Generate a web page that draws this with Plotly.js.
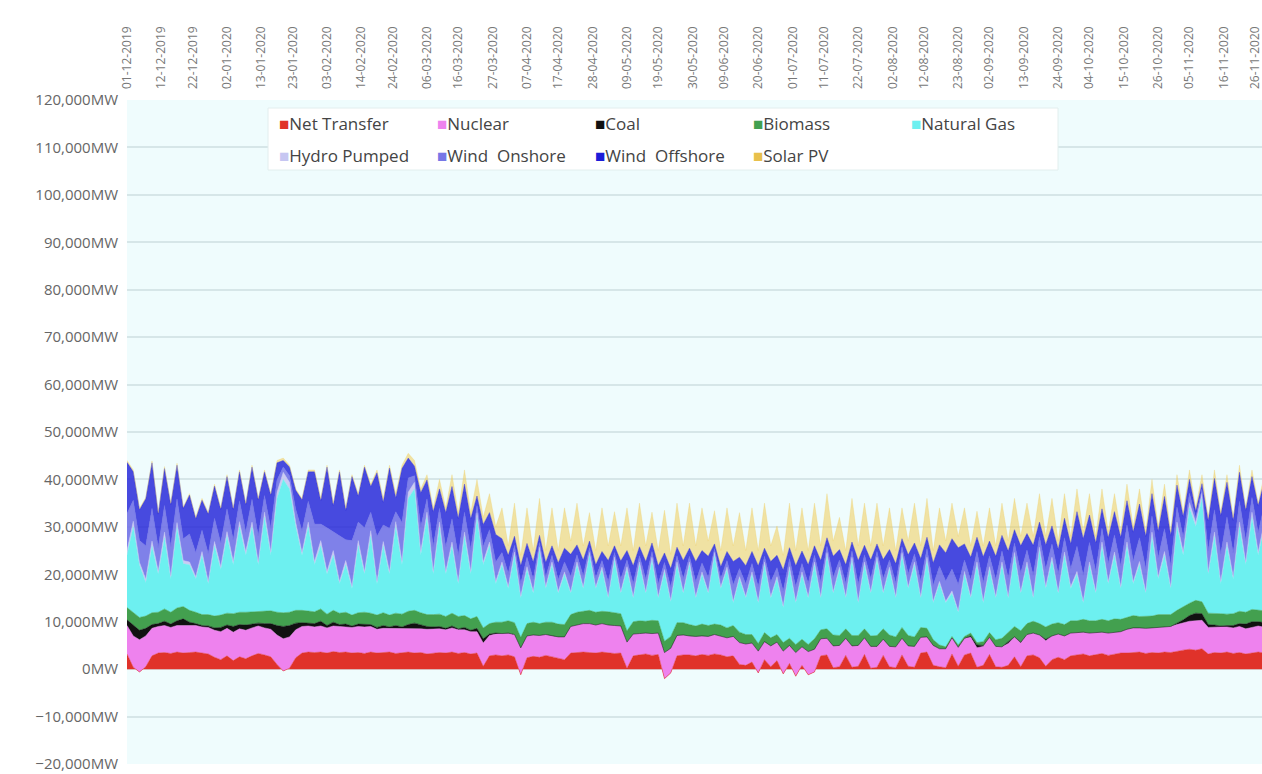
<!DOCTYPE html>
<html><head><meta charset="utf-8">
<script src="https://cdn.plot.ly/plotly-3.0.1.min.js"></script>
<style>html,body{margin:0;padding:0;background:#fff}#chart{width:1262px;height:774px}</style>
</head><body><div id="chart"></div>
<script>
// Sampling: one reading every 2 days starting 1 Dec 2019 (values in GW)
const startDate = '2019-12-01';
const stepDays = 2;

const tickLabels = ['01-12-2019','12-12-2019','22-12-2019','02-01-2020','13-01-2020','23-01-2020','03-02-2020','14-02-2020','24-02-2020','06-03-2020','16-03-2020','27-03-2020','07-04-2020','17-04-2020','28-04-2020','09-05-2020','19-05-2020','30-05-2020','09-06-2020','20-06-2020','01-07-2020','11-07-2020','22-07-2020','02-08-2020','12-08-2020','23-08-2020','02-09-2020','13-09-2020','24-09-2020','04-10-2020','15-10-2020','26-10-2020','05-11-2020','16-11-2020','26-11-2020'];

const netTransfer = [
3.2,0.4,-0.6,0.5,2.8,3.4,3.5,3.3,3.6,3.4,
3.5,3.6,3.4,3.2,2.5,2.0,2.8,1.8,2.6,2.2,
2.8,3.3,3.0,2.6,1.0,-0.4,0.2,2.4,3.4,3.6,
3.5,3.6,3.4,3.7,3.5,3.6,3.4,3.5,3.3,3.6,
3.4,3.5,3.6,3.3,3.5,3.6,3.4,3.5,3.2,3.4,
3.5,3.4,3.6,3.3,3.5,3.2,3.4,0.6,2.8,3.0,
2.8,3.0,2.6,-1.2,2.4,2.7,2.5,2.9,2.6,2.2,
2.0,3.4,3.5,3.6,3.5,3.4,3.6,3.5,3.3,3.4,
0.2,2.8,3.0,3.2,2.9,3.1,-2.0,-0.8,2.8,3.0,
3.0,2.8,3.1,2.9,3.2,3.0,2.6,2.8,1.0,0.8,
1.5,-0.8,2.0,0.5,1.8,-1.0,1.2,-1.5,0.8,-1.2,
-0.6,2.8,3.0,0.3,0.5,2.9,0.4,0.6,3.1,0.2,
0.4,2.9,0.5,0.3,3.0,0.6,0.4,3.4,3.6,0.8,
0.5,0.3,3.2,0.6,3.0,3.4,0.4,0.8,3.1,0.5,
0.4,0.8,2.6,0.5,2.8,3.0,2.4,0.6,2.0,2.5,
2.0,2.8,3.0,3.2,2.8,3.1,3.3,2.9,3.2,3.4,
3.4,3.5,3.6,3.3,3.5,3.4,3.6,3.5,3.8,4.0,
4.2,4.0,4.3,3.2,3.5,3.4,3.6,3.3,3.5,3.2,3.4,3.6,3.4];

const nuclear = [
6.0,6.6,6.8,6.5,5.8,5.6,5.7,5.5,5.6,5.8,
5.8,5.6,5.5,5.6,5.7,5.9,5.8,6.0,5.9,6.0,
5.9,5.8,5.7,5.8,6.2,6.8,6.6,5.9,5.6,5.5,
5.4,5.5,5.3,5.4,5.5,5.3,5.4,5.5,5.6,5.4,
5.0,5.1,5.0,5.2,5.0,4.9,5.1,5.0,5.2,5.0,
5.0,4.9,5.1,5.0,4.8,4.7,4.5,4.9,4.3,4.4,
4.6,4.5,4.7,5.6,4.6,4.5,4.6,4.4,4.5,4.6,
4.8,5.6,5.8,6.0,6.1,5.9,6.0,5.8,5.9,5.7,
5.5,4.6,4.5,4.4,4.6,4.5,5.5,5.2,4.3,4.2,
4.0,4.1,3.9,4.0,4.1,3.9,4.0,4.1,4.6,4.5,
4.0,4.6,3.8,4.4,3.9,4.8,3.8,5.0,3.9,4.9,
4.8,3.6,3.5,4.6,4.5,3.6,4.5,4.4,3.5,4.6,
4.4,3.4,4.3,4.4,3.5,4.3,4.4,3.3,3.2,4.2,
3.8,4.0,3.4,4.0,3.5,3.3,4.1,4.0,3.6,4.3,
4.3,4.6,4.2,5.0,4.5,4.6,4.8,5.4,5.0,4.9,
5.0,4.8,4.7,4.6,4.8,4.6,4.5,4.7,4.6,4.5,
5.0,5.2,5.1,5.3,5.2,5.4,5.3,5.5,5.6,5.8,
5.9,6.2,6.0,5.6,5.4,5.5,5.3,5.4,5.5,5.3,5.4,5.5,5.4];

const coal = [
1.2,2.2,2.0,1.6,0.8,0.6,0.9,0.7,1.0,1.4,
0.6,0.4,0.3,0.3,0.5,0.9,0.7,1.2,0.9,1.1,
0.8,0.6,0.9,1.2,2.0,2.6,2.4,1.4,0.8,0.6,
0.7,1.0,0.5,0.8,0.4,0.6,0.3,0.5,0.6,0.4,
0.4,0.6,0.3,0.7,0.4,0.9,1.2,0.8,0.6,0.5,
0.5,0.3,0.4,0.2,0.5,0.3,0.7,0.9,0.3,0.2,
0.1,0.1,0,0.1,0,0,0,0,0,0,
0,0,0,0,0,0,0,0,0,0,
0,0,0,0,0,0,0,0,0,0,
0,0,0,0,0,0,0,0,0,0,
0,0,0,0,0,0,0,0,0,0,
0,0,0,0,0,0,0,0,0,0,
0,0,0,0,0,0,0,0,0,0,
0,0,0,0,0,0.3,0.6,0.2,0,0,
0,0.4,0,0.2,0,0,0,0.3,0,0,
0,0,0,0,0,0,0,0,0,0,
0,0,0,0,0,0,0,0,0.3,0.6,
1.2,1.6,1.4,0.6,0.4,0.2,0.3,0.5,0.6,1.0,1.2,0.9,1.0];

const biomass = [
2.6,2.8,2.7,2.6,2.5,2.4,2.6,2.5,2.7,2.6,
2.5,2.4,2.3,2.4,2.5,2.6,2.5,2.7,2.6,2.7,
2.6,2.5,2.6,2.7,2.8,2.9,2.8,2.7,2.6,2.5,
2.5,2.6,2.4,2.5,2.4,2.5,2.3,2.4,2.5,2.4,
2.6,2.7,2.5,2.6,2.7,2.8,2.7,2.6,2.5,2.6,
2.6,2.5,2.7,2.6,2.5,2.4,2.5,2.3,2.2,2.3,
2.4,2.6,2.5,2.2,2.6,2.7,2.5,2.6,2.8,2.7,
2.6,2.5,2.7,2.6,2.8,2.7,2.6,2.8,2.7,2.6,
2.4,2.6,2.7,2.5,2.8,2.6,2.4,2.5,2.7,2.6,
2.4,2.2,2.5,2.3,2.2,2.4,2.1,2.3,2.2,2.0,
1.8,1.6,1.9,1.7,1.6,1.8,1.5,1.7,1.6,1.5,
2.2,1.9,2.0,2.3,2.1,2.0,2.2,2.1,1.9,2.2,
2.3,2.2,2.4,2.1,2.3,2.2,2.0,2.1,1.8,1.2,
0.8,0.4,0.3,0.5,0.4,0.6,0.5,0.8,1.0,1.4,
1.8,2.0,2.2,2.4,2.3,2.5,2.4,2.6,2.5,2.4,
2.4,2.6,2.5,2.7,2.6,2.5,2.7,2.6,2.8,2.6,
2.5,2.6,2.4,2.6,2.5,2.7,2.6,2.5,2.7,2.8,
2.6,2.7,2.5,2.4,2.5,2.6,2.4,2.5,2.6,2.5,2.6,2.4,2.5];

const naturalGas = [
11.0,18.0,11.0,7.0,14.0,8.0,15.0,7.0,17.0,9.0,
9.6,7.0,12.5,6.5,14.8,9.6,16.2,10.3,18.0,12.0,
17.9,9.8,19.8,11.7,24.0,28.1,26.0,17.6,11.6,17.8,
9.9,13.3,8.4,11.6,6.2,10.0,5.6,14.1,8.0,16.2,
6.6,14.1,8.6,18.2,10.4,23.8,25.6,12.1,20.5,8.5,
18.4,8.9,14.2,6.9,16.7,9.4,20.9,13.3,16.4,8.1,
12.1,6.8,14.2,8.3,11.4,6.1,15.4,7.1,12.1,6.5,
10.6,4.5,10.0,4.8,11.6,5.0,8.8,2.9,11.1,4.3,
12.9,5.0,11.8,5.9,12.7,4.8,14.6,7.3,12.2,6.2,
12.6,5.9,10.5,6.8,14.5,7.7,12.3,4.8,11.2,7.7,
12.7,8.6,14.3,8.4,11.7,7.4,14.5,8.8,13.7,9.8,
15.6,6.7,15.5,8.8,13.9,6.5,15.9,6.9,13.5,9.0,
15.9,7.5,13.8,8.2,15.2,9.9,15.2,6.2,14.4,7.8,
12.9,9.3,9.1,6.9,13.1,7.4,16.4,8.2,13.3,8.8,
15.5,7.2,15.0,7.9,12.4,4.9,15.4,8.1,13.5,6.2,
14.6,6.8,9.8,3.5,11.8,5.8,15.5,7.8,13.4,6.5,
15.1,6.7,10.9,4.8,16.8,7.5,12.5,5.5,17.6,10.8,
20.1,15.5,21.8,8.2,16.2,6.3,14.4,7.3,17.8,10.0,19.4,11.6,18.0];

const hydroPumped = [
1.0,1.2,0.6,0.8,1.1,0.7,1.2,0.6,1.0,0.7,
0.6,0.5,0.8,0.5,0.9,0.6,1.0,0.7,1.1,0.8,
1.0,0.6,1.1,0.7,1.3,1.5,1.4,0.9,0.6,1.0,
0.7,1.1,0.6,1.0,0.5,0.9,0.5,1.1,0.6,1.2,
0.5,0.9,0.6,1.1,0.7,1.3,1.4,0.8,1.1,0.6,
1.0,0.6,0.8,0.5,0.9,0.6,1.0,0.6,0.8,0.5,
0.6,0.4,0.7,0.4,0.6,0.4,0.7,0.4,0.6,0.4,
0.5,0.3,0.6,0.3,0.6,0.3,0.5,0.3,0.6,0.3,
0.6,0.3,0.6,0.3,0.6,0.3,0.5,0.3,0.6,0.3,
0.6,0.3,0.5,0.3,0.6,0.3,0.5,0.3,0.5,0.3,
0.5,0.3,0.6,0.3,0.5,0.3,0.6,0.3,0.5,0.3,
0.6,0.3,0.6,0.3,0.5,0.3,0.6,0.3,0.6,0.3,
0.6,0.3,0.5,0.3,0.6,0.3,0.6,0.3,0.6,0.3,
0.5,0.3,0.5,0.3,0.6,0.3,0.6,0.3,0.6,0.3,
0.6,0.3,0.6,0.3,0.6,0.3,0.7,0.4,0.6,0.3,
0.7,0.4,0.6,0.3,0.6,0.4,0.8,0.4,0.7,0.4,
0.8,0.4,0.7,0.4,0.9,0.5,0.8,0.4,1.0,0.7,
1.1,0.9,1.2,0.5,0.9,0.5,0.8,0.5,1.0,0.6,1.1,0.7,1.0];

const windOnshore = [
7.8,4.4,4.6,7.0,6.9,5.0,5.6,6.3,5.0,4.6,
5.9,5.1,4.5,5.9,4.9,5.0,4.8,4.6,4.4,4.1,
4.8,5.5,3.5,5.0,2.6,1.1,1.4,2.8,4.6,4.4,
7.9,3.5,9.2,4.0,9.6,4.4,9.6,3.9,9.2,3.9,
9.5,3.5,9.1,2.1,8.2,3.0,1.4,5.2,2.8,5.3,
2.9,5.2,4.9,5.5,4.2,4.6,1.5,3.3,2.6,4.1,
2.0,2.8,1.4,2.7,2.0,2.6,1.0,2.1,1.4,2.5,
2.1,3.3,1.5,2.4,1.0,2.0,1.4,3.2,1.0,2.7,
1.4,2.7,1.3,2.7,1.2,2.7,1.5,2.8,1.3,2.8,
1.2,3.1,1.9,3.1,0.8,1.8,1.4,3.5,1.7,2.7,
1.8,3.1,1.2,3.1,1.9,3.2,1.7,3.1,1.8,2.8,
1.4,3.2,1.3,3.1,1.5,2.8,1.3,3.6,1.5,2.8,
1.2,2.8,1.5,2.9,1.2,2.8,1.7,3.3,1.8,3.4,
3.2,4.3,4.6,5.6,2.4,3.5,2.2,3.9,2.3,3.6,
2.3,4.0,2.0,4.0,2.5,4.5,2.2,3.7,2.8,3.8,
3.0,3.8,5.3,5.5,4.1,4.3,2.9,3.9,3.6,4.4,
3.6,4.4,5.0,4.8,3.4,4.0,4.8,4.5,3.2,3.1,
2.0,1.0,0.8,4.5,4.7,5.8,5.3,5.0,4.4,4.5,3.1,4.1,3.5];

const windOffshore = [
10.8,6.0,6.5,9.9,9.6,7.0,7.8,8.8,7.1,6.4,
8.2,7.1,6.3,8.3,6.8,7.1,6.8,6.4,6.1,5.8,
6.8,7.6,5.0,7.0,3.6,1.4,1.8,4.0,6.5,6.2,
11.0,4.9,12.8,5.5,13.5,6.2,13.5,5.5,12.8,5.4,
13.4,4.8,12.7,2.9,11.4,4.2,2.0,7.2,4.0,7.3,
4.1,7.2,6.8,7.8,5.9,6.5,2.0,4.6,3.6,5.8,
2.9,3.8,1.9,3.7,2.9,3.6,1.5,3.0,2.0,3.5,
2.9,4.6,2.1,3.3,1.4,2.7,1.9,4.4,1.4,3.8,
2.0,3.8,1.9,3.7,1.8,3.8,2.0,3.9,1.8,3.8,
1.7,4.3,2.6,4.4,1.0,2.5,1.9,4.9,2.4,3.8,
2.5,4.4,1.7,4.3,2.6,4.4,2.3,4.4,2.6,3.9,
2.0,4.4,1.8,4.4,2.2,3.9,1.9,5.0,2.0,3.9,
1.6,4.0,2.2,4.0,1.7,4.0,2.3,4.7,2.4,4.7,
4.5,5.9,6.4,7.7,3.4,4.8,3.0,5.5,3.1,4.9,
3.3,5.6,2.8,5.7,3.5,6.3,3.1,5.1,3.8,5.2,
4.1,5.2,7.3,7.7,5.8,5.9,4.1,5.4,4.9,6.0,
5.1,6.1,7.1,6.8,4.7,5.6,6.8,6.3,4.6,4.4,
2.9,1.4,1.1,6.3,6.6,8.1,7.3,6.9,6.1,6.4,4.4,5.7,5.0];

const solarPV = [
0.4,0.4,0.3,0.3,0.4,0.3,0.4,0.3,0.4,0.3,
0.3,0.3,0.4,0.3,0.4,0.3,0.4,0.3,0.4,0.3,
0.4,0.3,0.4,0.3,0.5,0.5,0.4,0.3,0.3,0.4,
0.4,0.5,0.4,0.5,0.4,0.5,0.4,0.5,0.4,0.5,
0.6,0.8,0.6,0.9,0.7,1.0,1.2,0.8,1.1,0.8,
2.0,1.0,2.5,1.2,3.0,1.3,3.5,1.5,4.0,1.6,
6.5,2.0,7.0,2.2,7.5,2.4,7.8,2.5,8.0,2.6,
8.5,2.8,8.8,3.0,6.0,3.0,9.2,3.1,7.2,3.2,
9.0,3.2,9.2,3.3,6.5,3.2,9.0,3.0,9.3,3.1,
9.5,3.3,9.0,3.2,7.0,3.4,9.2,3.3,9.4,3.2,
9.2,3.2,9.5,3.3,6.2,3.1,9.4,3.2,9.1,3.0,
9.0,3.1,9.3,3.2,6.8,3.0,9.2,3.1,8.9,3.0,
8.6,2.9,8.8,2.8,6.5,2.9,8.4,2.7,8.2,2.6,
7.8,2.5,7.5,2.4,7.6,2.4,5.5,2.3,7.0,2.2,
6.8,2.1,6.6,2.0,6.4,1.9,6.0,1.8,5.8,1.7,
5.2,1.6,4.8,1.5,4.5,1.4,4.2,1.3,3.8,1.2,
3.5,1.1,3.2,1.0,3.0,0.9,2.6,0.8,2.2,0.8,
2.0,0.7,1.9,0.7,1.8,0.6,1.6,0.6,1.5,0.5,1.4,0.5,1.4];

const seriesNames = ['Net Transfer','Nuclear','Coal','Biomass','Natural Gas','Hydro Pumped','Wind  Onshore','Wind  Offshore','Solar PV'];
const seriesData = [netTransfer,nuclear,coal,biomass,naturalGas,hydroPumped,windOnshore,windOffshore,solarPV];
const seriesColors = ['#e0322a','#ee82ee','#111111','#43a04f','#6df0f0','#c6c6f2','#7777e6','#1c1cd8','#e8c04c'];
const fillColors = ['#e0322a','#ee82ee','#111111','#43a04f','#6df0f0','rgba(198,198,242,0.9)','rgba(112,112,230,0.88)','rgba(34,34,216,0.82)','rgba(240,204,90,0.55)'];

const t0 = Date.parse(startDate + 'T00:00:00Z');
const dates = netTransfer.map((_, i) => new Date(t0 + i * stepDays * 86400000).toISOString().slice(0, 10));
const tickVals = tickLabels.map(s => s.slice(6) + '-' + s.slice(3, 5) + '-' + s.slice(0, 2));

const traces = [];
seriesNames.forEach((name, k) => {
  traces.push({
    type: 'scatter', mode: 'lines', x: dates, y: seriesData[k].map(v => v * 1000),
    stackgroup: 'gen', name: name, legendgroup: name, showlegend: false,
    line: {width: 0.5, color: fillColors[k]}, fillcolor: fillColors[k],
    hovertemplate: name + ': %{y:,.0f}MW<extra></extra>'
  });
});
// legend entries: coloured square glyph followed by the series name
seriesNames.forEach((name, k) => {
  traces.push({
    type: 'scatter', mode: 'markers', x: [null], y: [null],
    name: '<span style="color:' + seriesColors[k] + '">\u25A0</span>' + name.replace(/ /g, '\u00a0'),
    legendgroup: name, legend: k < 5 ? 'legend' : 'legend2',
    marker: {symbol: 'square', size: 1, color: 'rgba(0,0,0,0)'}, hoverinfo: 'skip'
  });
});

const W = 1262, H = 774, L = 127, R = 0, T = 100, B = 10;
const pw = W - L - R, ph = H - T - B;
const px2x = p => (p - L) / pw;
const py2y = p => (H - B - p) / ph;

const legendCommon = {
  orientation: 'h', xanchor: 'left', yanchor: 'top', bgcolor: 'rgba(0,0,0,0)',
  font: {family: 'Open Sans, sans-serif', size: 17, color: '#444'},
  entrywidth: 113, entrywidthmode: 'pixels', traceorder: 'normal', borderwidth: 0
};

const layout = {
  width: W, height: H,
  margin: {l: L, r: R, t: T, b: B, pad: 0},
  paper_bgcolor: '#ffffff', plot_bgcolor: '#effcfd',
  font: {family: 'Open Sans, sans-serif', color: '#666'},
  xaxis: {
    type: 'date', side: 'top', range: ['2019-12-01', '2020-11-28 05:00'],
    tickmode: 'array', tickvals: tickVals, ticktext: tickLabels, tickangle: -90,
    tickfont: {size: 12, color: '#777'}, showgrid: false, zeroline: false, showline: false,
    ticks: '', ticklabelstandoff: 10, ticklabeloverflow: 'allow'
  },
  yaxis: {
    range: [-20000, 120000], tick0: 0, dtick: 10000, tickformat: ',d', ticksuffix: 'MW',
    gridcolor: '#d6e6e8', gridwidth: 1.5, zeroline: false, showline: false,
    tickfont: {size: 15, color: '#666'}, ticks: '', ticklabelstandoff: 8, ticklabeloverflow: 'allow'
  },
  showlegend: true,
  legend: Object.assign({x: px2x(239), y: py2y(106)}, legendCommon),
  legend2: Object.assign({x: px2x(239), y: py2y(138)}, legendCommon),
  shapes: [{
    type: 'rect', xref: 'paper', yref: 'paper', layer: 'above',
    x0: px2x(268), x1: px2x(1058), y0: py2y(170), y1: py2y(108),
    fillcolor: '#ffffff', line: {color: '#e2eeee', width: 1}
  }]
};

Plotly.newPlot('chart', traces, layout, {displayModeBar: false});
</script></body></html>
